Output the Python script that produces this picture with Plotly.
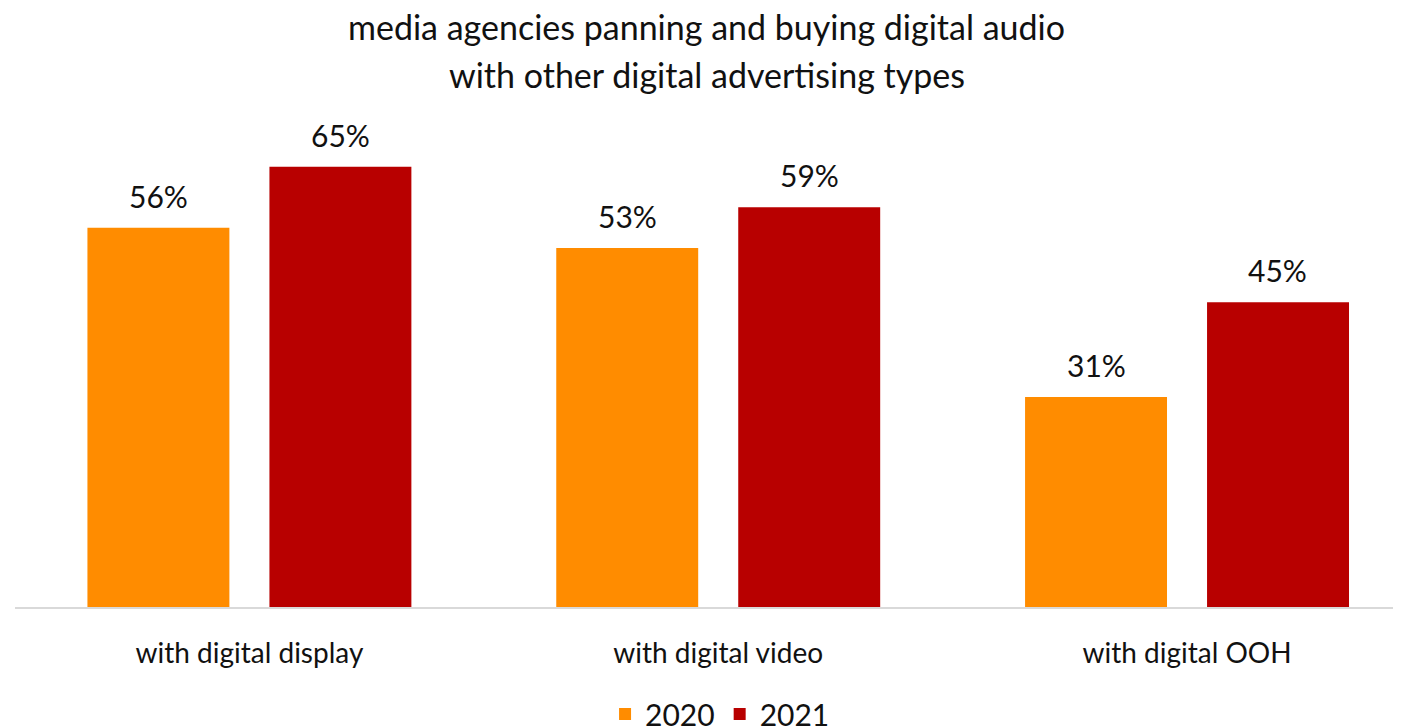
import plotly.graph_objects as go

categories = ["with digital display", "with digital video", "with digital OOH"]
series_names = ["2020", "2021"]
values_2020 = [56, 53, 31]
values_2021 = [65, 59, 45]
colors = ["#FF8C00", "#B80000"]

FONT = "Lato"
TXT = "#111111"

fig = go.Figure()
for name, vals, col in zip(series_names, [values_2020, values_2021], colors):
    fig.add_trace(go.Bar(name=name, x=categories, y=vals, marker_color=col,
                         marker_line_width=0))

# data labels
off = 0.194
for vals, sgn in [(values_2020, -1), (values_2021, 1)]:
    for i, v in enumerate(vals):
        fig.add_annotation(x=i + sgn * off, y=v, xref="x", yref="y",
                           text=f"{v}%", showarrow=False, yshift=32,
                           font=dict(family=FONT, size=30, color=TXT))

fig.add_annotation(text="media agencies panning and buying digital audio",
                   xref="paper", yref="paper", x=0.5, y=1.1427,
                   xanchor="center", yanchor="middle", showarrow=False,
                   font=dict(family=FONT, size=34, color=TXT))
fig.add_annotation(text="with other digital advertising types",
                   xref="paper", yref="paper", x=0.5, y=1.0492,
                   xanchor="center", yanchor="middle", showarrow=False,
                   font=dict(family=FONT, size=34, color=TXT))

fig.update_layout(
    width=1401, height=727,
    margin=dict(l=7, r=11, t=91, b=128, autoexpand=False),
    paper_bgcolor="white", plot_bgcolor="white",
    barmode="group", bargap=0.2236, bargroupgap=0.22,
    showlegend=True,
    legend=dict(orientation="h", x=0.5098, xanchor="center", y=-0.2106,
                yanchor="middle", font=dict(family=FONT, size=30, color=TXT),
                traceorder="normal"),
    font=dict(family=FONT, color=TXT),
)
fig.update_xaxes(type="category", range=[-0.5, 2.45], showline=True,
                 linecolor="#D9D9D9", linewidth=2, ticks="", showgrid=False,
                 tickfont=dict(family=FONT, size=28, color=TXT),
                 ticklabelstandoff=20, automargin=False)
fig.update_yaxes(range=[0, 75], showgrid=False, showticklabels=False,
                 zeroline=False, showline=False, automargin=False)

fig.write_html("out.html")
